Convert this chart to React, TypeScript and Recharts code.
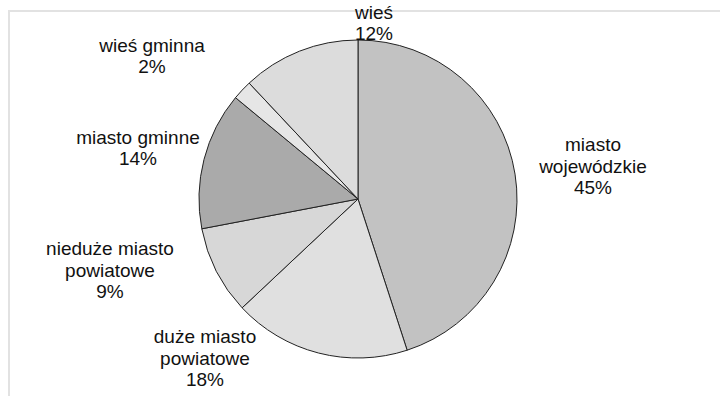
import { PieChart, Pie, Cell } from 'recharts';

// kategorie miejscowości i udziały (%)
const categories = [
  'miasto wojewódzkie',
  'duże miasto powiatowe',
  'nieduże miasto powiatowe',
  'miasto gminne',
  'wieś gminna',
  'wieś',
];
const shares = [45, 18, 9, 14, 2, 12];
const labelLines = [
  ['miasto', 'wojewódzkie'],
  ['duże miasto', 'powiatowe'],
  ['nieduże miasto', 'powiatowe'],
  ['miasto gminne'],
  ['wieś gminna'],
  ['wieś'],
];

const fills = ['#c2c2c2', '#e0e0e0', '#d7d7d7', '#aaaaaa', '#e6e6e6', '#dcdcdc'];
// przesunięcie środka etykiety względem środka koła
const labelOffsets: [number, number][] = [
  [235, -33],
  [-153, 159],
  [-248, 71],
  [-220, -51],
  [-206, -143],
  [16, -176],
];

const data = categories.map((name, i) => ({ name, value: shares[i] }));

const FONT = '"Liberation Sans", Arial, sans-serif';

function renderLabel(props: any) {
  const { cx, cy, index, value } = props;
  const lines = [...labelLines[index], `${value}%`];
  const [dx, dy] = labelOffsets[index];
  const lh = 21.5;
  const x = cx + dx;
  const y0 = cy + dy - ((lines.length - 1) / 2) * lh;
  return (
    <text key={`lbl-${index}`} x={x} y={y0} textAnchor="middle" fill="#111" fontSize={19} fontFamily={FONT}>
      {lines.map((t, i) => (
        <tspan key={i} x={x} y={y0 + i * lh} dominantBaseline="central">
          {t}
        </tspan>
      ))}
    </text>
  );
}

export default function App() {
  return (
    <div style={{ position: 'absolute', left: 0, top: 0, width: 720, height: 396, background: '#fff', overflow: 'hidden' }}>
      {/* ramka obszaru wykresu */}
      <div
        style={{
          position: 'absolute',
          left: 8,
          top: 10,
          width: 720,
          height: 400,
          borderTop: '2px solid #e2e2e2',
          borderLeft: '2px solid #e2e2e2',
        }}
      />
      <div style={{ position: 'absolute', left: 0, top: 0 }}>
        <PieChart width={720} height={396} margin={{ top: 0, right: 0, bottom: 0, left: 0 }}>
          <Pie
            data={data}
            dataKey="value"
            nameKey="name"
            cx={358}
            cy={199}
            outerRadius={159}
            startAngle={90}
            endAngle={-270}
            stroke="#222"
            strokeWidth={1}
            label={renderLabel}
            labelLine={false}
            isAnimationActive={false}
          >
            {data.map((d, i) => (
              <Cell key={d.name} fill={fills[i]} />
            ))}
          </Pie>
        </PieChart>
      </div>
    </div>
  );
}
